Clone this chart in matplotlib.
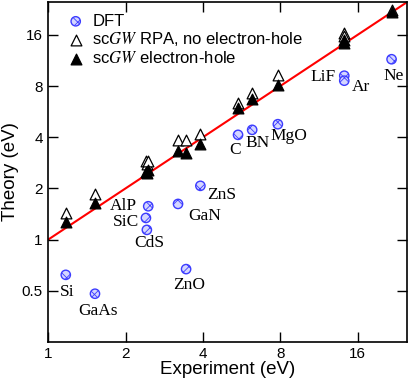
import matplotlib
matplotlib.use('Agg')
from matplotlib import pyplot as plt
from matplotlib.ticker import FixedLocator, NullLocator, FixedFormatter
import numpy as np

# band gap data (eV)
materials = ['Si', 'GaAs', 'SiC', 'CdS', 'AlP', 'GaN', 'ZnO', 'ZnS',
             'C', 'BN', 'MgO', 'LiF', 'Ar', 'Ne']
experiment = [1.17, 1.52, 2.40, 2.42, 2.45, 3.20, 3.44, 3.91,
              5.48, 6.22, 7.83, 14.2, 14.2, 21.7]
dft = [0.62, 0.48, 1.34, 1.14, 1.57, 1.62, 0.67, 2.07,
       4.13, 4.42, 4.77, 9.2, 8.6, 11.5]
gw_rpa = [1.43, 1.86, 2.88, 2.80, 2.90, 3.83, 3.83, 4.19,
          6.34, 7.26, 9.3, 16.3, 15.7, 22.4]
gw_eh = [1.26, 1.64, 2.50, 2.45, 2.57, 3.30, 3.23, 3.66,
         5.93, 6.68, 8.12, 14.9, 14.3, 21.8]

tick_values = [1, 2, 4, 8, 16]
ytick_values = [0.5, 1, 2, 4, 8, 16]
ytick_labels = ['0.5', '1', '2', '4', '8', '16']

# where the material names sit (left edge, vertical centre)
label_pos = {
    'Si': (1.11, 0.49), 'GaAs': (1.305, 0.38), 'AlP': (1.74, 1.58),
    'SiC': (1.78, 1.26), 'CdS': (2.16, 0.957), 'ZnO': (3.07, 0.537),
    'GaN': (3.51, 1.38), 'ZnS': (4.14, 1.84), 'C': (5.07, 3.37),
    'BN': (5.87, 3.72), 'MgO': (7.3, 4.04), 'LiF': (10.45, 9.0),
    'Ar': (15.2, 7.87), 'Ne': (20.2, 9.17),
}

plt.rcParams['mathtext.fontset'] = 'stix'
plt.rcParams['font.family'] = ['Liberation Sans', 'DejaVu Sans']
plt.rcParams['hatch.linewidth'] = 0.6

fig = plt.figure(figsize=(4.09, 3.82), dpi=100)
ax = fig.add_axes([0.118, 0.105, 0.878, 0.89])

ax.set_xscale('log', base=2)
ax.set_yscale('log', base=2)
ax.set_xlim(1, 25)
ax.set_ylim(0.25, 25)

# y = x guide line
ax.plot([1, 25], [1, 25], color='red', lw=1.5, zorder=1)

ax.scatter(experiment, dft, s=45, marker='o', facecolor='#d4d6ff',
           edgecolor='#3c3cff', hatch='xxx', linewidths=1.0, zorder=3,
           label='DFT')
ax.scatter(experiment, gw_rpa, s=60, marker='^', facecolor='white',
           edgecolor='black', linewidths=0.9, zorder=3,
           label=r'sc$GW$ RPA, no electron-hole')
ax.scatter(experiment, gw_eh, s=60, marker='^', facecolor='black',
           edgecolor='black', linewidths=0.9, zorder=4,
           label=r'sc$GW$ electron-hole')

for name in materials:
    x, y = label_pos[name]
    ax.text(x, y, name, family='Liberation Serif', fontsize=12.5,
            ha='left', va='center', zorder=5)

ax.xaxis.set_major_locator(FixedLocator(tick_values))
ax.xaxis.set_major_formatter(FixedFormatter([str(v) for v in tick_values]))
ax.xaxis.set_minor_locator(NullLocator())
ax.yaxis.set_major_locator(FixedLocator(ytick_values))
ax.yaxis.set_major_formatter(FixedFormatter(ytick_labels))
ax.yaxis.set_minor_locator(NullLocator())

ax.tick_params(which='both', direction='in', top=True, right=True,
               length=7, width=1.0, labelsize=11, pad=4)
for sp in ax.spines.values():
    sp.set_linewidth(1.2)

ax.set_xlabel('Experiment (eV)', fontsize=13.5, labelpad=0)
ax.set_ylabel('Theory (eV)', fontsize=13.5, labelpad=2)

ax.legend(loc='upper left', bbox_to_anchor=(0.03, 0.985), frameon=False,
          fontsize=12, handletextpad=0.4, labelspacing=0.1,
          borderaxespad=0, handlelength=1.2)

fig.savefig('out.png', dpi=100)
plt.close()
